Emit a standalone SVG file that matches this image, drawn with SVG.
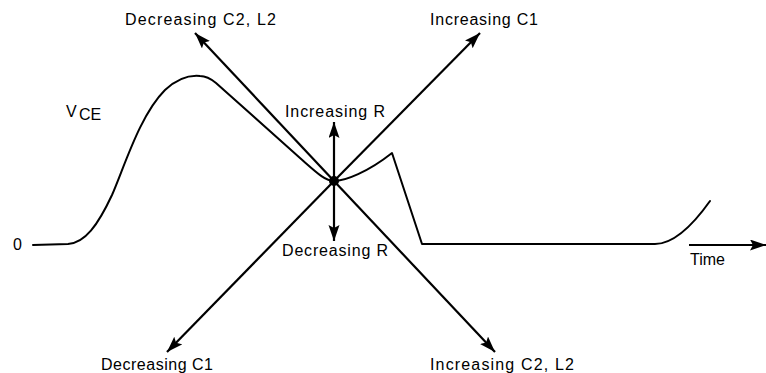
<svg xmlns="http://www.w3.org/2000/svg" width="766" height="373" viewBox="0 0 766 373">
<style>
.t{font-family:"Liberation Sans",Arial,sans-serif;font-size:16px;fill:#000}
.c{fill:none;stroke:#000;stroke-width:2;stroke-linejoin:round;stroke-linecap:round}
.a{fill:none;stroke:#000;stroke-width:2.2;marker-end:url(#ah)}
</style>
<defs>
<marker id="ah" markerUnits="userSpaceOnUse" markerWidth="18" markerHeight="12" refX="16" refY="5.5" orient="auto">
<path d="M0,0 L16,5.5 L0,11 L3,5.5 Z" fill="#000"/>
</marker>
</defs>
<rect width="766" height="373" fill="#fff"/>
<g id="curve">
<path class="c" d="M33,245 L68,244 C85,243 98,225 112,195 C125,165 140,115 165,90 C178,78 190,75 200,76 C206,76 210,78 216,83 L300,158 C316,172 325,181 334,181 C345,181 368,172 392,153 L422,244 L655,244 C670,244 688,232 710,201"/>
</g>
<g id="connectors">
<line class="a" x1="334" y1="181" x2="195" y2="33"/>
<line class="a" x1="334" y1="181" x2="480" y2="33"/>
<line class="a" x1="334" y1="181" x2="167" y2="352"/>
<line class="a" x1="334" y1="181" x2="495" y2="352"/>
<line class="a" x1="334" y1="181" x2="334" y2="122"/>
<line class="a" x1="334" y1="181" x2="334" y2="241"/>
<line class="a" x1="689" y1="245" x2="766" y2="245"/>
</g>
<g id="center"><circle cx="334" cy="181" r="5" fill="#000"/></g>
<g id="labels">
<text class="t" x="125" y="25" textLength="151" lengthAdjust="spacing">Decreasing  C2,  L2</text>
<text class="t" x="430" y="25" textLength="108" lengthAdjust="spacing">Increasing  C1</text>
<text class="t" x="285" y="117" textLength="100" lengthAdjust="spacing">Increasing  R</text>
<text class="t" x="282" y="256" textLength="106" lengthAdjust="spacing">Decreasing  R</text>
<text class="t" x="101" y="370" textLength="112" lengthAdjust="spacing">Decreasing  C1</text>
<text class="t" x="430" y="370" textLength="144" lengthAdjust="spacing">Increasing  C2,  L2</text>
<text class="t" x="690" y="265" textLength="35" lengthAdjust="spacing">Time</text>
<text class="t" x="13" y="250">0</text>
<text class="t" x="66" y="117" font-size="15">V</text>
<text class="t" x="79" y="120" font-size="15">CE</text>
</g>
</svg>
